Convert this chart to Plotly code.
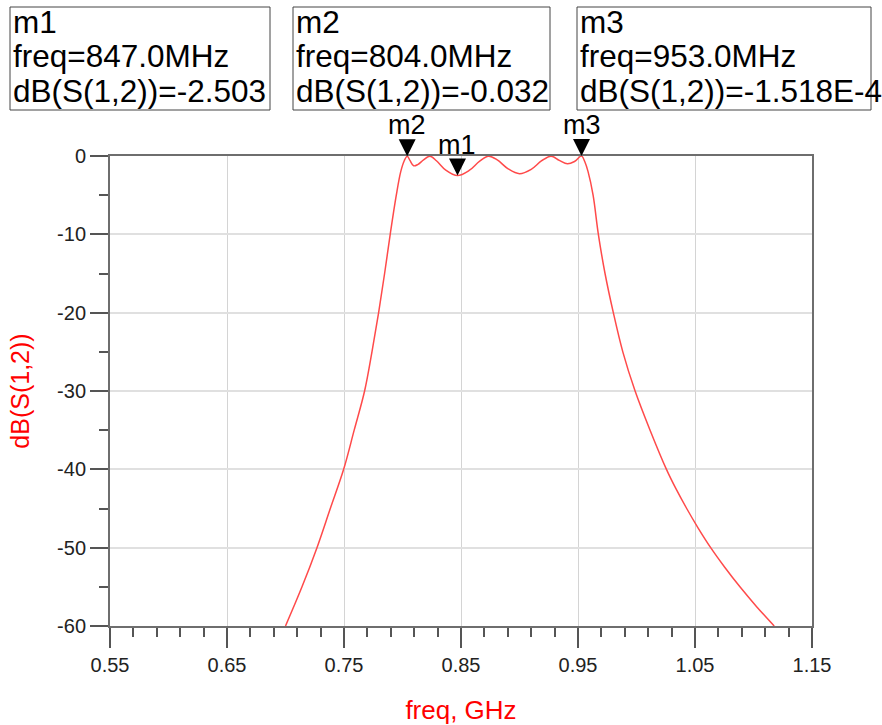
import plotly.graph_objects as go

# ---- data ----
freq_ghz = [0.7000, 0.7141, 0.7269, 0.7383, 0.7497, 0.7587, 0.7676, 0.7739, 0.7796, 0.7847,
            0.7895, 0.7947, 0.7985, 0.8015, 0.8040, 0.8065, 0.8095, 0.8130, 0.8180, 0.8235,
            0.8290, 0.8370, 0.8470, 0.8570, 0.8660, 0.8735, 0.8810, 0.8900, 0.9000, 0.9100,
            0.9190, 0.9270, 0.9340, 0.9410, 0.9470, 0.9530, 0.9560, 0.9586, 0.9629, 0.9674,
            0.9731, 0.9802, 0.9883, 0.9988, 1.0116, 1.0256, 1.0338, 1.0429, 1.0527, 1.0634,
            1.0754, 1.0884, 1.1025, 1.1177]
s12_db = [-60.0, -55.0, -50.0, -45.0, -40.0, -35.0, -30.0, -25.0, -20.0, -15.0,
          -10.0, -5.0, -2.0, -0.6, -0.03, -0.6, -1.25, -1.1, -0.5, -0.02,
          -0.6, -1.8, -2.50, -1.85, -0.65, -0.02, -0.5, -1.6, -2.25, -1.7,
          -0.6, -0.02, -0.55, -1.0, -0.7, -0.0002, -0.8, -2.0, -5.0, -10.0,
          -15.0, -20.0, -25.0, -30.0, -35.0, -40.0, -42.5, -45.0, -47.5, -50.0,
          -52.5, -55.0, -57.5, -60.0]

marker_names = ["m1", "m2", "m3"]
marker_freq_mhz = [847.0, 804.0, 953.0]
marker_db = [-2.503, -0.032, -1.518e-4]

x_ticks = [0.55, 0.65, 0.75, 0.85, 0.95, 1.05, 1.15]
y_ticks = [0, -10, -20, -30, -40, -50, -60]

# ---- layout geometry (pixels) ----
W, H = 882, 725
ML, MR, MT, MB = 110, 70, 156, 99
PW, PH = W - ML - MR, H - MT - MB


def px(xp):
    return (xp - ML) / PW


def py(yp):
    return 1 - (yp - MT) / PH


def fmt_db(v):
    if abs(v) < 1e-3 and v != 0:
        m, e = f"{v:.3E}".split("E")
        return f"{m}E{int(e)}"
    return f"{v:.3f}"


FONT = "Liberation Sans, Arial, sans-serif"
RED = "#ff4a4a"

fig = go.Figure()
fig.add_trace(go.Scatter(
    x=freq_ghz, y=s12_db, mode="lines",
    line=dict(color=RED, width=1.5, shape="spline", smoothing=1.0),
    hoverinfo="skip", showlegend=False))

annotations = []
shapes = []

# marker triangles (arrow heads) + labels on the curve
for name, f, v in zip(marker_names, marker_freq_mhz, marker_db):
    annotations.append(dict(x=f / 1000.0, y=v, xref="x", yref="y", text=name,
                            showarrow=True, arrowhead=2, arrowsize=3.4, arrowwidth=1,
                            arrowcolor="black", ax=0, ay=-15, standoff=0,
                            xanchor="center", yanchor="bottom", borderpad=0,
                            font=dict(family=FONT, size=27, color="black")))

# marker readout boxes
boxes = [(10, 270), (293, 550), (577, 871)]
for (x0, x1), name, f, v in zip(boxes, marker_names, marker_freq_mhz, marker_db):
    shapes.append(dict(type="rect", xref="paper", yref="paper",
                       x0=px(x0), x1=px(x1), y0=py(110), y1=py(7),
                       line=dict(color="#444444", width=1), fillcolor="white", layer="above"))
    lines = [name, f"freq={f:.1f}MHz", f"dB(S(1,2))={fmt_db(v)}"]
    for txt, yc in zip(lines, [22, 56, 91]):
        annotations.append(dict(x=px(x0 + 2), y=py(yc), xref="paper", yref="paper",
                                text=txt, showarrow=False, xanchor="left", yanchor="middle",
                                borderpad=0,
                                font=dict(family=FONT, size=31.5, color="black")))

fig.update_layout(
    width=W, height=H,
    margin=dict(l=ML, r=MR, t=MT, b=MB, pad=0, autoexpand=False),
    paper_bgcolor="white", plot_bgcolor="white",
    font=dict(family=FONT, color="#222222"),
    annotations=annotations, shapes=shapes,
)

fig.update_xaxes(
    range=[0.55, 1.15], tickmode="array", tickvals=x_ticks,
    ticktext=[f"{t:.2f}" for t in x_ticks], automargin=False,
    showgrid=True, gridcolor="#d4d4d4", gridwidth=1,
    showline=True, linecolor="#6e6e6e", linewidth=2, mirror=True,
    ticks="outside", ticklen=20, tickwidth=2, tickcolor="#555555",
    minor=dict(tick0=0.55, dtick=0.02, ticks="outside", ticklen=9, tickwidth=2,
               tickcolor="#555555", showgrid=False),
    tickfont=dict(size=20, color="#222222"),
    title=dict(text="freq, GHz", font=dict(size=26, color="red"), standoff=32),
    zeroline=False,
)
fig.update_yaxes(
    range=[-60, 0], tickmode="array", tickvals=y_ticks,
    ticktext=[str(t) for t in y_ticks], automargin=False,
    showgrid=True, gridcolor="#e0e0e0", gridwidth=2,
    showline=True, linecolor="#6e6e6e", linewidth=2, mirror=True,
    ticks="outside", ticklen=18, tickwidth=2, tickcolor="#555555",
    minor=dict(dtick=5, ticks="outside", ticklen=9, tickwidth=2,
               tickcolor="#555555", showgrid=False),
    tickfont=dict(size=20, color="#222222"),
    title=dict(text="dB(S(1,2))", font=dict(size=25, color="red"), standoff=20),
    zeroline=False,
)

fig.write_html("out.html")
